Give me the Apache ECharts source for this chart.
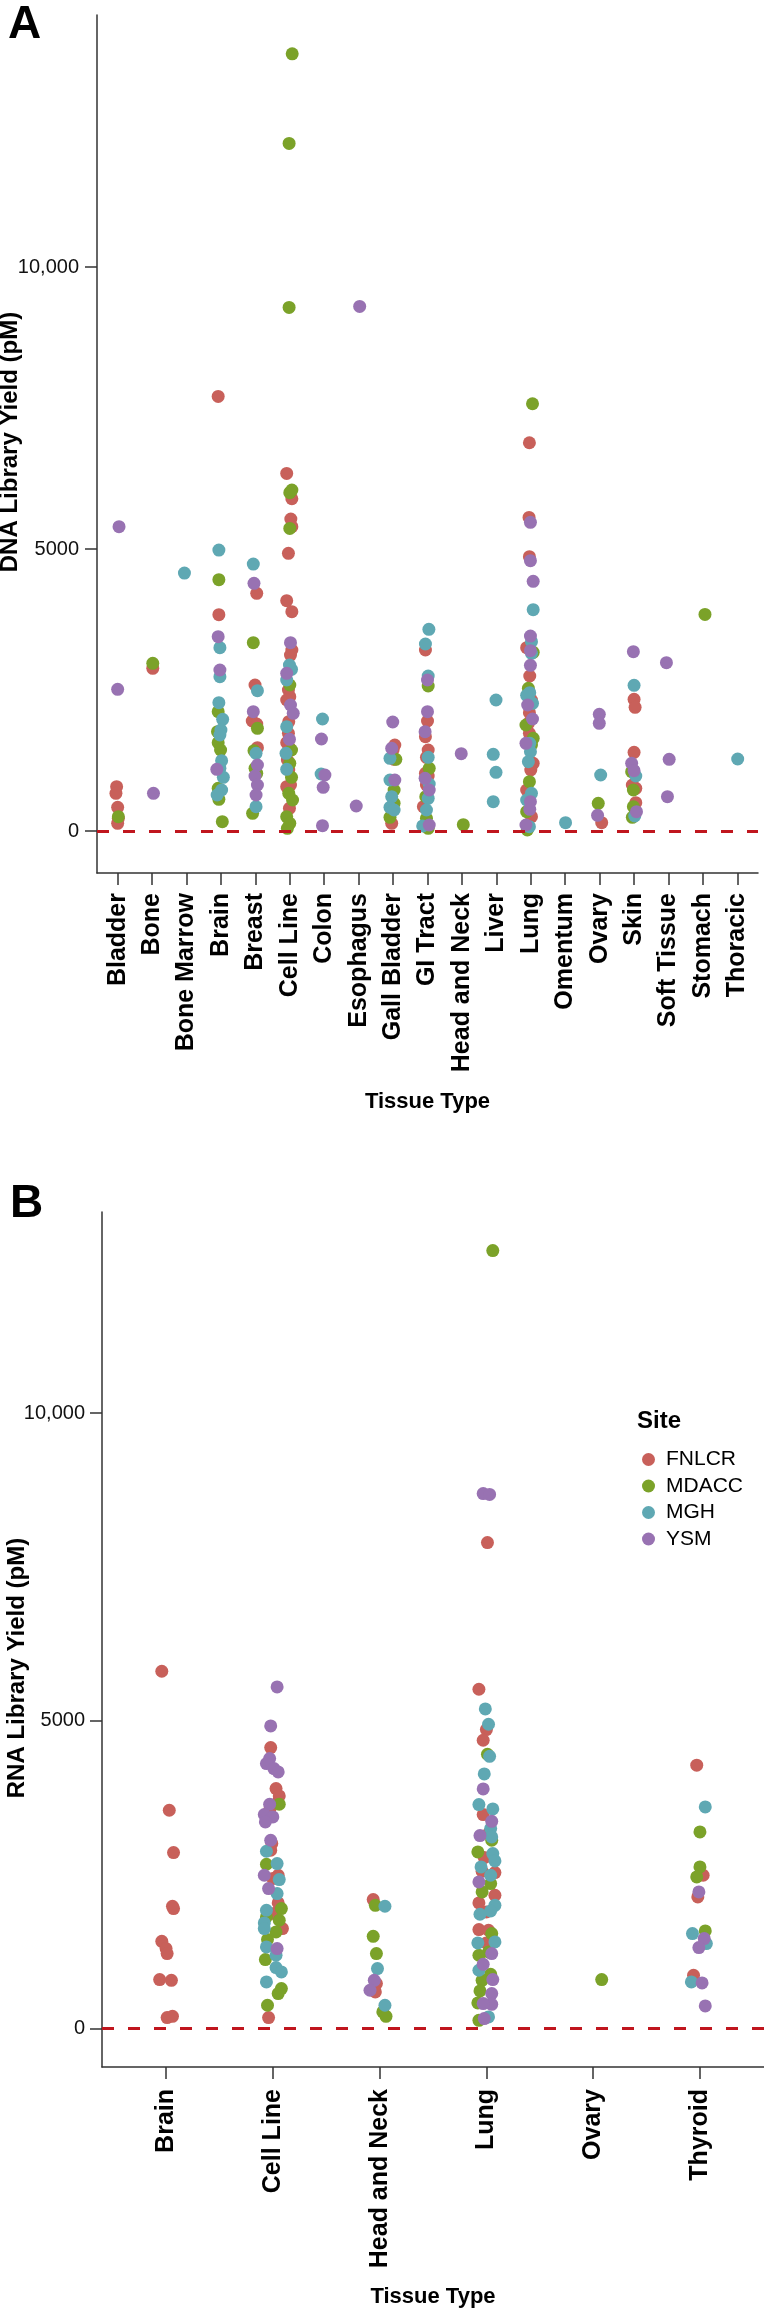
<!DOCTYPE html>
<html><head><meta charset="utf-8">
<script src="https://cdn.jsdelivr.net/npm/echarts@6.0.0/dist/echarts.min.js"></script>
<style>html,body{margin:0;padding:0;background:#fff}#chart{width:764px;height:2311px}</style>
</head><body><div id="chart"></div>
<script>
const sites = ["FNLCR", "MDACC", "MGH", "YSM"];
const dnaTissues = ["Bladder","Bone","Bone Marrow","Brain","Breast","Cell Line","Colon","Esophagus","Gall Bladder","GI Tract","Head and Neck","Liver","Lung","Omentum","Ovary","Skin","Soft Tissue","Stomach","Thoracic"];
const rnaTissues = ["Brain","Cell Line","Head and Neck","Lung","Ovary","Thyroid"];
const yTickValues = [0, 5000, 10000];
const yTickLabels = ["0", "5000", "10,000"];

// [tissue, horizontal jitter (category units), library yield (pM)]
const dnaFNLCR = [
["Bladder",-0.03,786],["Bladder",-0.05,668],["Bladder",0,420],["Bladder",0.02,225],["Bladder",0,136],
["Bone",0.02,2884],
["Brain",-0.08,7707],["Brain",-0.06,3836],
["Breast",0.04,4214],["Breast",-0.01,2589],["Breast",-0.09,1950],["Breast",0.04,1897],["Breast",0.06,1478],
["Cell Line",-0.09,6341],["Cell Line",0.06,5892],["Cell Line",0.03,5532],["Cell Line",0.06,5396],["Cell Line",-0.04,4923],["Cell Line",-0.09,4084],["Cell Line",0.06,3889],["Cell Line",0.06,3209],["Cell Line",0.02,3120],["Cell Line",-0.04,2500],["Cell Line",0,2382],["Cell Line",-0.09,2323],["Cell Line",-0.03,1938],["Cell Line",-0.04,1732],["Cell Line",-0.09,1566],["Cell Line",0,1466],["Cell Line",-0.07,1259],["Cell Line",-0.03,1082],["Cell Line",0.02,816],["Cell Line",-0.09,786],["Cell Line",-0.01,402],
["Gall Bladder",0.05,1525],["Gall Bladder",0,1436],["Gall Bladder",0.03,1271],["Gall Bladder",-0.04,136],
["GI Tract",-0.06,3209],["GI Tract",0,1950],["GI Tract",-0.06,1673],["GI Tract",0.02,1436],["GI Tract",-0.03,1306],["GI Tract",-0.06,1022],["GI Tract",0.02,975],["GI Tract",-0.03,816],["GI Tract",-0.12,431],
["Lung",-0.04,6885],["Lung",-0.05,5561],["Lung",-0.04,4864],["Lung",-0.12,3251],["Lung",-0.03,2748],["Lung",0.02,2323],["Lung",-0.04,2098],["Lung",-0.07,1909],["Lung",-0.04,1732],["Lung",0.07,1200],["Lung",0,1082],["Lung",-0.12,727],["Lung",0.02,254],
["Ovary",0.06,148],
["Skin",0,2334],["Skin",0.03,2193],["Skin",0,1395],["Skin",-0.05,816],["Skin",0.05,756],["Skin",0.05,502]
];
const dnaMDACC = [
["Bladder",0.02,254],["Bone",0.02,2973],
["Brain",-0.06,4456],["Brain",-0.08,2116],["Brain",-0.1,1761],["Brain",-0.08,1566],["Brain",-0.01,1436],["Brain",-0.08,756],["Brain",-0.06,561],["Brain",0.04,165],
["Breast",-0.06,3339],["Breast",0.06,1820],["Breast",-0.04,1424],["Breast",-0.01,1111],["Breast",0.04,1022],["Breast",-0.08,313],
["Cell Line",0.07,13782],["Cell Line",-0.02,12193],["Cell Line",-0.02,9285],["Cell Line",0,5999],["Cell Line",0.06,6046],["Cell Line",0,5366],["Cell Line",0,2589],["Cell Line",0.05,1436],["Cell Line",0,1200],["Cell Line",0.05,951],["Cell Line",-0.03,668],["Cell Line",0.08,550],["Cell Line",-0.09,254],["Cell Line",0,136],["Cell Line",-0.07,47],
["Gall Bladder",0.08,1271],["Gall Bladder",0.03,727],["Gall Bladder",0.03,491],["Gall Bladder",-0.09,242],
["GI Tract",0.02,2571],["GI Tract",0.05,1111],["GI Tract",-0.05,609],["GI Tract",-0.03,225],["GI Tract",0.02,47],
["Head and Neck",0.04,112],
["Lung",0.05,7576],["Lung",0.07,3168],["Lung",-0.07,2530],["Lung",-0.14,1879],["Lung",0.07,1643],["Lung",0.02,1525],["Lung",-0.04,875],["Lung",-0.12,343],["Lung",-0.1,18],
["Ovary",-0.04,491],
["Skin",-0.07,1052],["Skin",-0.02,727],["Skin",-0.02,431],["Skin",-0.05,242],
["Stomach",0.06,3841]
];
const dnaMGH = [
["Bone Marrow",-0.06,4574],
["Brain",-0.06,4982],["Brain",-0.03,3250],["Brain",-0.03,2736],["Brain",-0.06,2275],["Brain",0.05,1980],["Brain",0,1791],["Brain",-0.03,1702],["Brain",0.02,1247],["Brain",-0.03,1111],["Brain",0.07,951],["Brain",0.02,727],["Brain",-0.11,638],
["Breast",-0.06,4734],["Breast",0.06,2488],["Breast",0.02,1377],["Breast",0.02,431],
["Cell Line",-0.01,2943],["Cell Line",0.05,2866],["Cell Line",-0.09,2677],["Cell Line",-0.09,1850],["Cell Line",-0.11,1377],["Cell Line",-0.09,1093],
["Colon",-0.05,1986],["Colon",-0.09,1011],
["Gall Bladder",-0.09,1288],["Gall Bladder",-0.09,904],["Gall Bladder",-0.04,609],["Gall Bladder",-0.09,420],["Gall Bladder",0.03,372],
["GI Tract",0.04,3576],["GI Tract",-0.06,3316],["GI Tract",0.02,2748],["GI Tract",0.02,1306],["GI Tract",0.05,833],["GI Tract",0.02,579],["GI Tract",-0.03,372],["GI Tract",-0.14,89],
["Liver",-0.01,2323],["Liver",-0.09,1359],["Liver",-0.01,1040],["Liver",-0.09,520],
["Lung",0.07,3924],["Lung",0.02,3357],["Lung",0.02,3150],["Lung",-0.03,2453],["Lung",-0.12,2405],["Lung",0.05,2264],["Lung",-0.03,1554],["Lung",-0.01,1407],["Lung",-0.07,1229],["Lung",0.02,668],["Lung",-0.12,550],["Lung",-0.04,77],
["Omentum",0.01,148],
["Ovary",0.03,993],
["Skin",0,2583],["Skin",0.05,975],["Skin",0.02,266],
["Thoracic",0.01,1277]
];
const dnaYSM = [
["Bladder",0.04,5396],["Bladder",0,2512],["Bone",0.04,668],
["Brain",-0.08,3445],["Brain",-0.03,2855],["Brain",-0.12,1093],
["Breast",-0.04,4391],["Breast",-0.06,2116],["Breast",0.06,1170],["Breast",-0.01,975],["Breast",0.06,816],["Breast",0.02,638],
["Cell Line",0.02,3339],["Cell Line",-0.09,2795],["Cell Line",0.02,2234],["Cell Line",0.1,2086],["Cell Line",-0.01,1625],
["Colon",-0.08,1631],["Colon",0.02,993],["Colon",-0.03,774],["Colon",-0.05,95],
["Esophagus",0.03,9303],["Esophagus",-0.07,443],
["Gall Bladder",-0.01,1933],["Gall Bladder",-0.04,1466],["Gall Bladder",0.05,904],
["GI Tract",0,2677],["GI Tract",0,2116],["GI Tract",-0.07,1761],["GI Tract",-0.07,934],["GI Tract",0.05,727],["GI Tract",0.05,106],
["Head and Neck",-0.02,1371],
["Lung",-0.01,5473],["Lung",-0.01,4793],["Lung",0.07,4427],["Lung",-0.01,3457],["Lung",-0.01,3197],["Lung",-0.01,2937],["Lung",-0.09,2234],["Lung",0.05,1986],["Lung",-0.14,1554],["Lung",-0.01,520],["Lung",-0.03,384],["Lung",-0.14,106],
["Ovary",-0.01,2069],["Ovary",-0.01,1909],["Ovary",-0.06,278],
["Skin",-0.02,3180],["Skin",-0.07,1200],["Skin",0,1070],["Skin",0.07,343],
["Soft Tissue",-0.06,2985],["Soft Tissue",0.02,1271],["Soft Tissue",-0.03,609]
];

const rnaFNLCR = [
["Brain",-0.04,5807],["Brain",0.03,3548],["Brain",0.07,2860],["Brain",0.06,1988],["Brain",0.07,1950],["Brain",-0.04,1419],["Brain",0,1300],["Brain",0.01,1219],["Brain",-0.06,796],["Brain",0.05,785],["Brain",0.01,179],["Brain",0.06,200],
["Cell Line",-0.02,4567],["Cell Line",0.03,3900],["Cell Line",0.06,3781],["Cell Line",0.05,3683],["Cell Line",-0.03,3548],["Cell Line",-0.01,3006],["Cell Line",-0.02,2898],["Cell Line",0.05,2492],["Cell Line",0,2438],["Cell Line",0.05,2042],["Cell Line",0.01,1869],["Cell Line",0.09,1625],["Cell Line",-0.04,179],
["Head and Neck",-0.06,2096],["Head and Neck",-0.03,731],["Head and Neck",-0.04,596],
["Lung",0.01,7898],["Lung",-0.07,5515],["Lung",0,4859],["Lung",-0.03,4686],["Lung",-0.03,3478],["Lung",0.02,3169],["Lung",-0.02,2779],["Lung",0.08,2535],["Lung",-0.04,2557],["Lung",0.08,2167],["Lung",-0.07,2042],["Lung",0,1896],["Lung",-0.07,1609],["Lung",0.02,1598],["Lung",0,1392],["Lung",0.04,1419],
["Thyroid",-0.03,4280],["Thyroid",0.03,2492],["Thyroid",-0.02,2140],["Thyroid",-0.06,867]
];
const rnaMDACC = [
["Cell Line",0.06,3646],["Cell Line",-0.06,2671],["Cell Line",0.08,1950],["Cell Line",-0.06,1815],["Cell Line",0.06,1761],["Cell Line",0.03,1571],["Cell Line",-0.05,1446],["Cell Line",-0.07,1121],["Cell Line",0.08,650],["Cell Line",0.05,569],["Cell Line",-0.05,379],
["Head and Neck",-0.04,2004],["Head and Neck",-0.06,1500],["Head and Neck",-0.03,1219],["Head and Neck",0.03,271],["Head and Neck",0.06,200],
["Lung",0.06,12643],["Lung",0.01,4458],["Lung",0.05,3061],["Lung",-0.08,2871],["Lung",0.04,2356],["Lung",-0.04,2221],["Lung",0.05,1544],["Lung",0.02,1246],["Lung",-0.07,1192],["Lung",0.04,883],["Lung",-0.04,785],["Lung",-0.06,612],["Lung",-0.08,417],["Lung",-0.07,135],
["Ovary",0.08,796],
["Thyroid",0,3196],["Thyroid",0,2627],["Thyroid",-0.03,2465],["Thyroid",0.05,1587]
];
const rnaMGH = [
["Cell Line",-0.06,2882],["Cell Line",0.04,2681],["Cell Line",0.06,2421],["Cell Line",0.04,2194],["Cell Line",-0.06,1923],["Cell Line",-0.08,1717],["Cell Line",-0.08,1625],["Cell Line",-0.06,1327],["Cell Line",0.03,1192],["Cell Line",0.03,991],["Cell Line",0.08,921],["Cell Line",-0.06,758],
["Head and Neck",0.05,1988],["Head and Neck",-0.02,975],["Head and Neck",0.05,379],
["Lung",-0.01,5195],["Lung",0.02,4946],["Lung",0.03,4425],["Lung",-0.02,4139],["Lung",-0.07,3640],["Lung",0.06,3570],["Lung",0.04,3250],["Lung",0.05,3115],["Lung",0.06,2844],["Lung",0.08,2725],["Lung",-0.05,2627],["Lung",0.04,2492],["Lung",0.08,2004],["Lung",0.04,1912],["Lung",-0.06,1858],["Lung",0.08,1408],["Lung",-0.08,1392],["Lung",-0.07,948],["Lung",0.02,190],
["Thyroid",0.05,3602],["Thyroid",-0.07,1544],["Thyroid",0.06,1381],["Thyroid",-0.08,758]
];
const rnaYSM = [
["Cell Line",0.04,5552],["Cell Line",-0.02,4919],["Cell Line",-0.03,4388],["Cell Line",-0.06,4307],["Cell Line",0.01,4225],["Cell Line",0.05,4171],["Cell Line",-0.03,3646],["Cell Line",-0.08,3478],["Cell Line",0,3440],["Cell Line",-0.07,3359],["Cell Line",-0.02,3061],["Cell Line",-0.08,2492],["Cell Line",-0.04,2275],["Cell Line",0.04,1300],
["Head and Neck",-0.05,785],["Head and Neck",-0.09,623],
["Lung",-0.03,8694],["Lung",0.03,8680],["Lung",-0.03,3895],["Lung",0.05,3369],["Lung",-0.06,3136],["Lung",-0.07,2383],["Lung",0.05,1219],["Lung",-0.03,1045],["Lung",0.06,796],["Lung",0.05,569],["Lung",0.05,395],["Lung",-0.03,406],["Lung",-0.02,163],
["Thyroid",-0.01,2221],["Thyroid",0.04,1463],["Thyroid",-0.01,1316],["Thyroid",0.02,742],["Thyroid",0.05,368]
];

const siteColors = {FNLCR: "#C8605A", MDACC: "#7BA229", MGH: "#5FA8B3", YSM: "#9872B2"};
const FONT = "Liberation Sans, Arial, Helvetica, sans-serif";
const dnaData = {FNLCR: dnaFNLCR, MDACC: dnaMDACC, MGH: dnaMGH, YSM: dnaYSM};
const rnaData = {FNLCR: rnaFNLCR, MDACC: rnaMDACC, MGH: rnaMGH, YSM: rnaYSM};

function toPoints(rows, tissues) {
  return rows.map(r => [tissues.indexOf(r[0]) + r[1], r[2]]);
}
const axisColor = "#333";
function xAxisFor(gridIndex, tissues, margin) {
  const idx = tissues.map((_, i) => i);
  return {
    type: "value", gridIndex: gridIndex, min: -0.6, max: tissues.length - 1 + 0.6,
    axisLine: {show: true, onZero: false, lineStyle: {color: axisColor, width: 1.5}},
    axisTick: {show: true, length: 12, customValues: idx, lineStyle: {color: axisColor, width: 1.5}},
    axisLabel: {show: true, customValues: idx, rotate: 90, margin: margin,
      formatter: v => tissues[Math.round(v)], fontFamily: FONT, fontWeight: "bold", fontSize: 25, color: "#000"},
    splitLine: {show: false}
  };
}
function yAxisFor(gridIndex, min, max, margin) {
  return {
    type: "value", gridIndex: gridIndex, min: min, max: max,
    axisLine: {show: true, onZero: false, lineStyle: {color: axisColor, width: 1.5}},
    axisTick: {show: true, length: 12, customValues: yTickValues, lineStyle: {color: axisColor, width: 1.5}},
    axisLabel: {show: true, customValues: yTickValues, margin: margin,
      formatter: v => yTickLabels[yTickValues.indexOf(v)], fontFamily: FONT, fontSize: 20, color: "#111"},
    splitLine: {show: false}
  };
}
const zeroLine = {
  silent: true, symbol: "none", label: {show: false},
  lineStyle: {color: "#C0161E", type: [12, 14], width: 3},
  emphasis: {disabled: true},
  data: [{yAxis: 0}]
};
const series = [];
[[dnaData, dnaTissues, 0], [rnaData, rnaTissues, 1]].forEach(([data, tissues, gi]) => {
  sites.forEach((s, k) => {
    const ser = {
      type: "scatter", name: s, xAxisIndex: gi, yAxisIndex: gi,
      symbol: "circle", symbolSize: 13,
      itemStyle: {color: siteColors[s], opacity: 1},
      emphasis: {disabled: true},
      data: toPoints(data[s], tissues)
    };
    if (k === 0) ser.markLine = zeroLine;
    series.push(ser);
  });
});

const chart = echarts.init(document.getElementById("chart"), null, {renderer: "canvas"});
chart.setOption({
  animation: false,
  backgroundColor: "#fff",
  grid: [
    {left: 97, top: 15, width: 661, height: 858, outerBoundsMode: "none"},
    {left: 102, top: 1212, width: 662, height: 855, outerBoundsMode: "none"}
  ],
  xAxis: [xAxisFor(0, dnaTissues, 20), xAxisFor(1, rnaTissues, 22)],
  yAxis: [yAxisFor(0, -745, 14470, 18), yAxisFor(1, -624, 13270, 17)],
  legend: {
    data: sites, orient: "vertical", left: 637, top: 1444,
    itemWidth: 13, itemHeight: 13, itemGap: 5.5, icon: "circle",
    selectedMode: false,
    textStyle: {fontFamily: FONT, fontSize: 21, color: "#000", lineHeight: 21, padding: [0, 0, 0, 6]}
  },
  graphic: [
    {type: "text", x: 8, y: 25, style: {text: "A", fontFamily: FONT, fontWeight: "bold", fontSize: 46, fill: "#000", align: "left", verticalAlign: "middle"}},
    {type: "text", x: 10, y: 1204, style: {text: "B", fontFamily: FONT, fontWeight: "bold", fontSize: 46, fill: "#000", align: "left", verticalAlign: "middle"}},
    {type: "text", x: 10, y: 442, rotation: Math.PI / 2, style: {text: "DNA Library Yield (pM)", fontFamily: FONT, fontWeight: "bold", fontSize: 24, fill: "#000", align: "center", verticalAlign: "middle"}},
    {type: "text", x: 17, y: 1668, rotation: Math.PI / 2, style: {text: "RNA Library Yield (pM)", fontFamily: FONT, fontWeight: "bold", fontSize: 24, fill: "#000", align: "center", verticalAlign: "middle"}},
    {type: "text", x: 427.5, y: 1102, style: {text: "Tissue Type", fontFamily: FONT, fontWeight: "bold", fontSize: 22, fill: "#000", align: "center", verticalAlign: "middle"}},
    {type: "text", x: 433, y: 2297, style: {text: "Tissue Type", fontFamily: FONT, fontWeight: "bold", fontSize: 22, fill: "#000", align: "center", verticalAlign: "middle"}},
    {type: "text", x: 637, y: 1421, style: {text: "Site", fontFamily: FONT, fontWeight: "bold", fontSize: 24, fill: "#000", align: "left", verticalAlign: "middle"}}
  ],
  series: series
});
</script>
</body></html>
